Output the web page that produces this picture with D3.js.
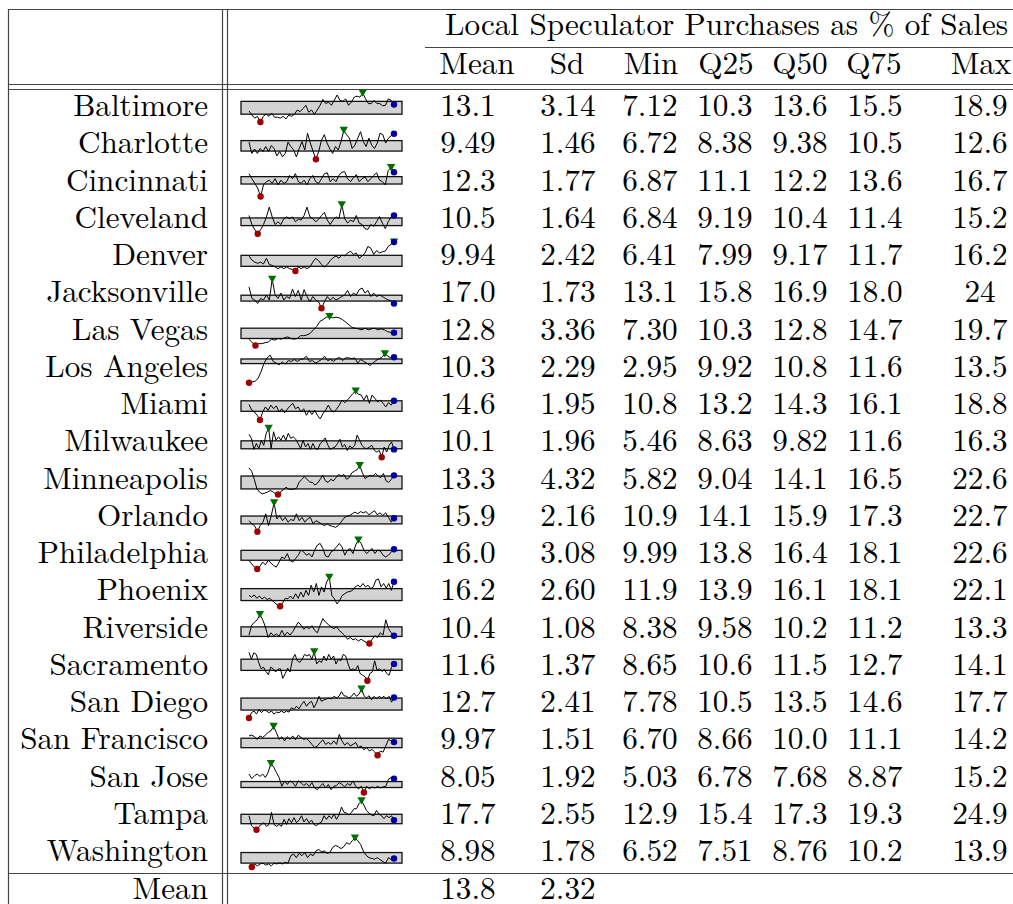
<!DOCTYPE html>
<html>
<head>
<meta charset="utf-8">
<script src="https://cdn.jsdelivr.net/npm/d3@7"></script>
<style>
body { margin: 0; background: #fff; }
</style>
</head>
<body>
<svg id="chart" width="1013" height="904"></svg>
<script>
// table data
var cities = ["Baltimore", "Charlotte", "Cincinnati", "Cleveland", "Denver", "Jacksonville",
  "Las Vegas", "Los Angeles", "Miami", "Milwaukee", "Minneapolis", "Orlando", "Philadelphia",
  "Phoenix", "Riverside", "Sacramento", "San Diego", "San Francisco", "San Jose", "Tampa", "Washington"];

var statNames = ["Mean", "Sd", "Min", "Q25", "Q50", "Q75", "Max"];
var colMean = ["13.1","9.49","12.3","10.5","9.94","17.0","12.8","10.3","14.6","10.1","13.3","15.9","16.0","16.2","10.4","11.6","12.7","9.97","8.05","17.7","8.98"];
var colSd   = ["3.14","1.46","1.77","1.64","2.42","1.73","3.36","2.29","1.95","1.96","4.32","2.16","3.08","2.60","1.08","1.37","2.41","1.51","1.92","2.55","1.78"];
var colMin  = ["7.12","6.72","6.87","6.84","6.41","13.1","7.30","2.95","10.8","5.46","5.82","10.9","9.99","11.9","8.38","8.65","7.78","6.70","5.03","12.9","6.52"];
var colQ25  = ["10.3","8.38","11.1","9.19","7.99","15.8","10.3","9.92","13.2","8.63","9.04","14.1","13.8","13.9","9.58","10.6","10.5","8.66","6.78","15.4","7.51"];
var colQ50  = ["13.6","9.38","12.2","10.4","9.17","16.9","12.8","10.8","14.3","9.82","14.1","15.9","16.4","16.1","10.2","11.5","13.5","10.0","7.68","17.3","8.76"];
var colQ75  = ["15.5","10.5","13.6","11.4","11.7","18.0","14.7","11.6","16.1","11.6","16.5","17.3","18.1","18.1","11.2","12.7","14.6","11.1","8.87","19.3","10.2"];
var colMax  = ["18.9","12.6","16.7","15.2","16.2","24","19.7","13.5","18.8","16.3","22.6","22.7","22.6","22.1","13.3","14.1","17.7","14.2","15.2","24.9","13.9"];
var meanRow = ["13.8", "2.32"];

// sparkline series (% of sales)
var baltimore = [11.6,10.0,8.7,9.4,7.12,9.4,10.3,9.4,10.7,9.0,9.1,8.7,9.4,8.35,10.0,9.4,10.3,12.0,11.3,12.6,13.9,11.1,12.0,10.3,12.0,13.9,16.3,14.6,15.2,13.9,15.9,18.1,15.9,15.5,16.5,13.9,15.2,17.2,17.6,17.2,18.9,16.5,14.6,14.6,15.9,14.6,14.6,13.7,13.9,16.5,15.9,14.2];
var charlotte = [10.2,7.9,8.8,7.9,8.9,8.3,9.3,8.3,9.5,8.9,7.4,8.3,7.2,7.9,10.2,9.3,8.6,7.2,8.9,10.3,8.6,12.0,10.0,8.3,6.72,8.3,10.6,11.7,10.0,8.8,7.9,9.3,8.6,10.3,12.6,11.7,11.0,8.9,9.6,11.0,12.3,10.3,9.3,11.0,9.6,8.9,10.0,12.0,11.7,10.0,11.0,11.5,11.9];
var cincinnati = [14.6,12.9,11.3,9.7,6.87,10.8,11.9,12.4,11.3,12.9,10.8,12.4,11.3,11.9,14.0,12.9,14.6,11.9,11.3,12.4,10.8,12.9,14.0,11.9,11.3,12.9,14.6,14.9,11.9,12.9,11.9,14.0,15.1,15.3,12.9,11.9,13.2,14.3,11.9,12.9,13.5,11.9,12.9,14.0,14.9,12.4,11.9,10.8,15.7,16.7,15.1];
var cleveland = [12.1,9.5,8.0,6.84,8.0,9.5,11.7,14.5,11.7,9.5,10.3,9.5,11.2,11.7,11.2,11.7,10.3,11.0,10.8,12.1,14.5,11.7,11.2,10.3,11.0,12.1,13.0,10.8,9.5,10.8,11.7,11.2,15.2,11.2,9.9,10.8,10.3,12.1,9.9,9.5,8.3,8.1,9.5,9.0,10.3,11.8,9.9,8.3,10.3,11.7,12.1];
var denver = [11.5,10.1,9.4,9.0,9.4,8.8,10.7,8.6,8.3,7.8,7.2,7.8,7.2,7.8,7.2,6.9,6.41,7.8,7.2,7.8,7.2,7.8,9.4,10.7,9.9,8.6,7.8,8.6,9.9,10.9,11.5,10.7,11.8,11.5,12.5,13.1,12.0,12.5,10.7,11.5,12.5,14.7,14.1,12.0,13.3,12.5,12.9,13.1,14.7,15.4,16.2];
var jacksonville = [21.1,16.8,16.2,14.9,16.8,16.2,18.1,16.2,24,18.1,16.8,18.8,16.2,17.5,16.8,20.3,17.5,19.8,16.2,20.1,17.5,15.5,17.5,16.2,15.5,13.1,15.5,17.5,16.2,17.2,16.2,16.8,17.5,18.1,19.8,17.5,18.8,18.1,20.1,20.7,18.8,19.8,17.5,18.8,17.5,18.1,17.5,16.8,16.2,15.9,14.9];
var lasVegas = [10.0,8.5,7.30,8.1,8.1,8.5,8.8,10.0,9.6,10.3,10.0,10.6,11.0,10.3,10.0,10.3,11.5,11.5,11.8,12.5,14.0,15.4,17.6,18.4,19.4,19.7,19.1,19.4,19.1,18.4,17.3,16.2,15.0,14.7,14.4,14.0,14.7,14.0,14.4,14.7,14.0,14.4,14.0,13.2,12.9,12.8];
var losAngeles = [2.95,3.2,3.5,4.5,7.0,10.1,12.0,13.0,10.7,10.1,9.5,10.5,9.7,11.0,10.7,11.4,10.7,11.4,11.7,12.6,10.7,11.0,10.1,10.7,11.4,12.6,11.0,11.4,10.7,11.7,12.2,11.0,12.0,12.0,11.7,12.0,10.1,11.4,10.7,10.1,9.2,10.1,11.0,11.7,12.2,13.5,12.6,12.0,12.2];
var miami = [15.1,13.5,13.0,12.1,10.8,13.0,14.4,13.5,14.9,13.9,14.7,13.0,13.9,12.8,13.8,14.7,15.4,13.9,14.4,13.0,13.9,12.1,13.5,12.3,13.5,12.1,11.1,12.5,13.5,14.9,13.5,13.0,13.8,14.9,16.3,15.6,16.3,17.2,18.1,18.8,17.9,17.7,16.3,17.7,15.4,17.7,16.8,15.8,16.3,15.4,14.4,15.6,14.9,16.1];
var milwaukee = [14.0,12.5,8.4,10.6,8.7,11.8,9.9,14.4,16.3,8.7,15.0,11.8,13.1,11.8,13.75,11.8,14.4,12.5,13.1,12.2,10.6,8.7,11.8,9.3,10.6,8.4,10.6,8.7,8.4,10.6,11.5,12.7,10.2,8.4,8.9,9.3,10.6,12.2,9.3,10.2,8.0,9.7,8.9,9.9,13.75,11.8,9.9,8.9,8.7,9.3,9.9,8.0,7.4,8.0,5.46,9.3,7.4,9.9,11.2,8.4];
var minneapolis = [21.2,19.3,14.6,9.04,7.2,6.2,6.6,7.2,8.1,7.5,6.2,5.82,7.5,8.5,10.0,9.0,8.7,9.0,9.4,12.8,14.6,16.1,14.6,13.1,12.8,11.3,12.4,14.6,16.9,13.7,12.8,14.6,13.7,15.6,17.4,16.5,17.4,14.6,15.6,18.4,19.3,20.2,22.6,18.4,15.0,16.1,16.9,16.5,18.0,16.5,15.6,18.0,13.7,12.8,14.6,16.9];
var orlando = [15.4,14.1,13.4,10.9,13.4,14.8,18.2,13.4,17.5,22.7,16.1,17.5,15.4,16.8,14.8,15.9,15.4,18.2,15.4,16.8,14.8,16.1,16.8,14.1,15.4,14.8,14.1,13.4,14.1,13.4,13.1,12.7,13.4,14.8,16.4,17.2,17.5,18.2,18.9,18.2,19.1,18.6,19.1,17.8,18.6,19.5,17.8,18.6,17.5,18.6,16.8,14.8,16.4];
var philadelphia = [13.7,12.2,10.8,9.99,11.2,13.0,11.8,13.7,12.7,11.5,10.8,13.0,15.2,14.5,16.7,13.7,13.0,14.5,16.0,18.2,17.4,16.0,16.7,15.2,18.2,20.4,21.1,18.9,15.6,15.2,17.4,18.2,19.6,21.1,19.6,16.0,18.2,18.9,16.7,20.4,22.6,21.1,18.2,16.7,17.8,18.9,16.7,18.2,17.8,16.0,15.2,16.0,17.4,18.6];
var phoenix = [15.7,15.1,15.9,14.7,15.5,14.5,15.1,14.3,14.7,13.9,13.1,12.3,11.9,13.1,14.7,14.5,15.5,14.5,16.3,14.7,16.9,15.1,17.5,15.7,19.3,16.9,19.9,15.7,18.7,16.9,20.5,22.1,15.7,14.5,12.7,13.9,15.7,16.3,16.9,17.1,17.5,18.7,19.3,18.7,19.9,18.7,19.3,18.1,18.7,21.1,21.5,18.7,19.9,18.3,19.9,17.5,20.5];
var riverside = [9.8,11.5,12.0,12.4,13.3,12.4,11.2,9.4,10.2,9.7,10.0,9.6,10.6,9.7,10.3,9.8,10.4,11.2,12.0,11.5,10.8,11.2,10.9,11.4,10.6,10.2,11.5,12.6,12.0,11.6,11.2,10.9,11.2,10.6,10.2,9.7,9.1,9.4,9.0,9.2,8.8,9.1,8.8,8.5,8.38,9.1,9.7,9.4,10.2,9.8,12.4,10.9,10.2,9.7];
var sacramento = [14.0,12.7,13.9,13.6,12.1,10.9,11.2,10.4,9.8,11.2,10.9,10.3,10.8,10.9,9.1,10.0,11.0,10.3,12.7,13.6,12.4,12.1,12.7,13.6,13.3,13.6,12.7,14.1,11.8,12.4,12.1,13.3,12.4,13.6,12.7,13.3,11.8,12.7,12.4,13.6,13.3,11.8,10.6,10.9,10.6,11.5,10.0,9.7,9.4,8.65,10.0,10.3,12.4,10.6,10.9,10.4,10.8,10.0,9.7,11.2,11.8];
var sanDiego = [7.78,9.6,10.2,9.1,10.7,9.6,10.5,10.2,9.6,10.2,9.1,9.8,9.6,10.2,9.6,10.2,9.8,11.3,10.7,11.8,10.9,12.4,13.5,11.8,12.9,13.5,11.3,12.9,15.2,13.5,14.0,14.3,14.6,14.3,15.2,14.6,15.2,16.8,15.4,15.2,14.6,15.2,16.3,15.2,15.9,17.7,15.4,14.6,15.4,14.0,15.2,14.3,15.2,14.6,15.2,14.3,15.2,13.2,14.8];
var sanFrancisco = [11.7,11.9,11.5,10.8,11.7,11.3,11.9,12.6,13.0,14.2,12.6,10.8,11.5,10.4,11.5,10.8,11.7,10.7,11.9,11.3,10.8,11.0,10.4,9.5,8.7,9.1,10.0,10.7,9.5,10.0,9.5,10.4,9.5,12.1,10.4,9.3,10.0,9.1,9.5,10.0,8.7,9.1,8.1,8.7,7.8,8.2,7.5,6.70,7.8,7.5,9.1,10.8,10.4,10.1];
var sanJose = [11.5,9.9,10.9,11.5,10.7,11.5,10.3,12.1,15.2,14.0,12.1,10.3,7.2,9.1,7.85,9.1,8.5,7.2,9.1,8.5,7.5,8.2,7.2,8.5,6.6,6.0,7.2,8.2,6.6,7.85,6.0,7.2,7.5,8.5,7.85,6.99,8.2,7.5,9.1,7.2,6.3,7.2,5.03,7.2,6.3,6.99,6.6,7.2,6.6,6.99,7.2,9.7,10.3,9.9];
var tampa = [18.7,14.6,13.6,12.9,14.3,15.1,15.8,14.3,15.1,20.1,15.1,14.3,15.1,14.3,17.2,15.1,17.5,15.8,17.9,15.8,16.9,18.7,16.1,17.5,15.8,16.9,15.1,14.6,15.5,16.1,18.7,17.2,18.7,17.5,19.4,17.2,19.0,22.3,20.1,19.8,19.0,20.1,21.6,21.6,23.7,24.9,23.0,20.9,19.8,19.0,18.7,20.9,19.4,18.7,17.5,18.7,17.9,18.7,16.9];
var washington = [7.0,6.52,7.3,6.8,7.3,7.5,7.0,7.3,6.8,7.5,7.3,7.5,7.3,7.7,7.5,9.4,9.8,8.9,10.0,9.4,10.2,8.9,9.8,9.4,10.6,11.0,10.4,10.6,10.0,10.2,11.5,12.0,11.7,11.2,11.7,12.7,12.3,13.2,13.9,13.2,12.3,10.6,9.5,8.9,8.7,8.5,8.9,8.4,7.9,7.5,8.9,8.4,8.7];

var seriesList = [baltimore, charlotte, cincinnati, cleveland, denver, jacksonville, lasVegas,
  losAngeles, miami, milwaukee, minneapolis, orlando, philadelphia, phoenix, riverside,
  sacramento, sanDiego, sanFrancisco, sanJose, tampa, washington];
var statCols = [colMean, colSd, colMin, colQ25, colQ50, colQ75, colMax];

var W = 1013, H = 904;
var svg = d3.select("#chart")
  .style("font-family", "'Latin Modern Roman', 'Liberation Serif', serif")
  .style("font-size", "31.2px");

// row centres
var rowY = d3.scaleLinear().domain([0, cities.length - 1]).range([107, 107 + 37.25 * 20]);
var colX = d3.scaleOrdinal().domain(statNames).range([468, 568, 650, 725, 800, 875, 980]);
var headX = d3.scaleOrdinal().domain(statNames).range([477, 567, 651, 726, 800, 874, 981]);

// rules
var rule = "#444";
function hline(y, x0, x1) {
  svg.append("line").attr("x1", x0).attr("x2", x1).attr("y1", y).attr("y2", y)
    .attr("stroke", rule).attr("stroke-width", 1.2);
}
function vline(x, y0, y1) {
  svg.append("line").attr("x1", x).attr("x2", x).attr("y1", y0).attr("y2", y1)
    .attr("stroke", rule).attr("stroke-width", 1.2);
}
hline(9.5, 8, W);
hline(47.5, 425, W);
hline(84.5, 8, W);
hline(89.5, 8, W);
hline(873.5, 8, W);
vline(8.5, 9, H);
vline(222.5, 9, H);
vline(227.5, 9, H);

// header
svg.append("text").attr("x", 726.5).attr("y", 35).attr("text-anchor", "middle")
  .text("Local Speculator Purchases as % of Sales");
svg.selectAll("text.head").data(statNames).enter().append("text")
  .attr("class", "head")
  .attr("x", function(d) { return headX(d); })
  .attr("y", 74)
  .attr("text-anchor", "middle")
  .text(function(d) { return d; });

// rows
var rows = svg.selectAll("g.row").data(cities).enter().append("g").attr("class", "row");

rows.append("text")
  .attr("x", 208)
  .attr("y", function(d, i) { return rowY(i) + 9; })
  .attr("text-anchor", "end")
  .text(function(d) { return d; });

statNames.forEach(function(s, j) {
  rows.append("text")
    .attr("x", colX(s))
    .attr("y", function(d, i) { return rowY(i) + 9; })
    .attr("text-anchor", "middle")
    .text(function(d, i) { return statCols[j][i]; });
});

// sparklines
rows.each(function(d, i) {
  var g = d3.select(this);
  var values = seriesList[i];
  var cy = rowY(i);
  var x = d3.scaleLinear().domain([0, values.length - 1]).range([249, 394]);
  var y = d3.scaleLinear().domain(d3.extent(values)).range([cy + 15, cy - 14]);
  var q25 = +colQ25[i], q75 = +colQ75[i];

  g.append("rect")
    .attr("x", 241).attr("width", 161)
    .attr("y", y(q75)).attr("height", y(q25) - y(q75))
    .attr("fill", "#d3d3d3").attr("stroke", "#111").attr("stroke-width", 1.3);

  g.append("path").datum(values)
    .attr("d", d3.line().x(function(v, k) { return x(k); }).y(function(v) { return y(v); }))
    .attr("fill", "none").attr("stroke", "#000").attr("stroke-width", 1);

  var iMin = d3.minIndex(values), iMax = d3.maxIndex(values), iLast = values.length - 1;
  g.append("circle").attr("cx", x(iMin)).attr("cy", y(values[iMin])).attr("r", 3.2).attr("fill", "#a00000");
  g.append("path")
    .attr("d", d3.symbol(d3.symbolTriangle, 30)())
    .attr("transform", "translate(" + x(iMax) + "," + (y(values[iMax]) - 1) + ") rotate(180)")
    .attr("fill", "#006e00");
  g.append("circle").attr("cx", x(iLast)).attr("cy", y(values[iLast])).attr("r", 3.2).attr("fill", "#0000a0");
});

// mean row
svg.append("text").attr("x", 208).attr("y", 899).attr("text-anchor", "end").text("Mean");
svg.selectAll("text.mrow").data(meanRow).enter().append("text")
  .attr("class", "mrow")
  .attr("x", function(d, j) { return colX(statNames[j]); })
  .attr("y", 899)
  .attr("text-anchor", "middle")
  .text(function(d) { return d; });
</script>
</body>
</html>
